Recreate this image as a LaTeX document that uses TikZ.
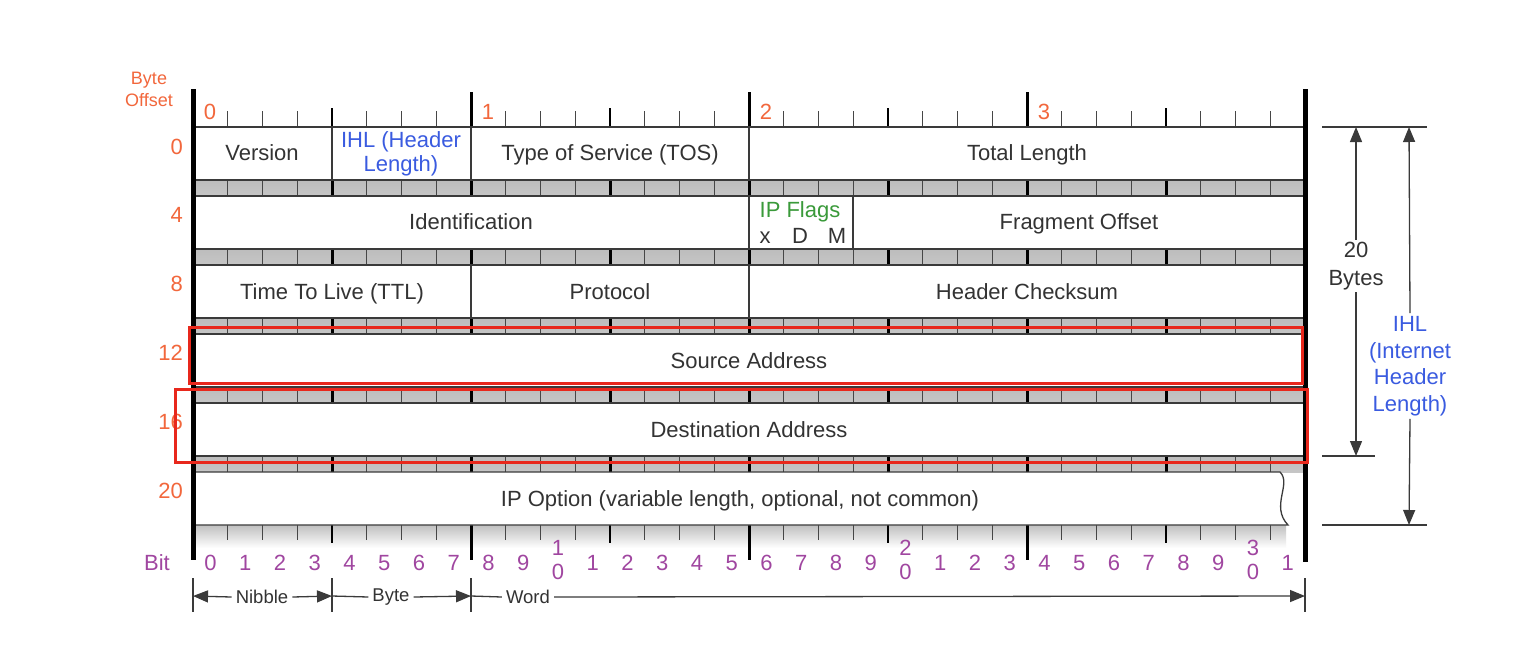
\documentclass[tikz,border=0pt]{standalone}
\usepackage{fontspec}
\setmainfont{Liberation Sans}
\usetikzlibrary{arrows.meta}
\definecolor{offc}{HTML}{F2673C}
\definecolor{ihlc}{HTML}{3A5BE0}
\definecolor{flagc}{HTML}{3A9A3A}
\definecolor{bitc}{HTML}{A046A0}
\definecolor{redc}{HTML}{E8281C}
\definecolor{txt}{HTML}{333333}
\definecolor{edge}{HTML}{3A3A3A}
\tikzset{
  field/.style={text=txt, inner sep=1pt, text height=15.5pt, text depth=0pt},
  offlab/.style={text=offc, anchor=east, inner sep=0pt},
  bitlab/.style={text=bitc, inner sep=0pt},
  rowbox/.style={fill=white, draw=edge, line width=1.3pt},
  sep/.style={draw=edge, line width=1.3pt},
  thin tick/.style={draw=gray!55!black, line width=1pt},
  thick tick/.style={draw=black, line width=3pt},
  mainline/.style={draw=black, line width=5pt},
  dim/.style={draw=edge, line width=1.3pt},
  dimarrow/.style={dim, -{Triangle[length=15pt,width=12pt]}},
  hilite/.style={draw=redc, line width=3pt},
}
\begin{document}
\begin{tikzpicture}[x=1pt,y=-1pt, font=\fontsize{22}{24}\selectfont]
\useasboundingbox (0,0) rectangle (1520,662);
\fill[white] (0,0) rectangle (1520,662);

% ---- gray bands between rows
\foreach \k in {0,...,4}{
  \pgfmathsetmacro\bt{180+69*\k}
  \pgfmathsetmacro\bb{196+69*\k}
  \shade[top color=gray!52, middle color=gray!22, bottom color=gray!45] (193,\bt) rectangle (1305,\bb);
  \foreach \i in {1,...,31}{
    \pgfmathsetmacro\xx{193+34.75*\i}
    \pgfmathtruncatemacro\m{mod(\i,4)}
    \ifnum\m=0
      \draw[thick tick] (\xx,\bt) -- (\xx,\bb);
    \else
      \draw[thin tick] (\xx,\bt) -- (\xx,\bb);
    \fi
  }
}

% ---- bottom ruler shading
\shade[top color=gray!50, bottom color=white] (193,525) rectangle (1286,548);

% ---- top and bottom ruler ticks
\foreach \i in {1,...,31}{
  \pgfmathsetmacro\xx{193+34.75*\i}
  \pgfmathtruncatemacro\m{mod(\i,4)}
  \pgfmathtruncatemacro\n{mod(\i,8)}
  \ifnum\n=0
    \draw[thick tick] (\xx,92) -- (\xx,127);
    \draw[thick tick] (\xx,525) -- (\xx,560);
  \else\ifnum\m=0
    \draw[draw=black, line width=2.5pt] (\xx,108) -- (\xx,127);
    \draw[draw=black, line width=2.5pt] (\xx,525) -- (\xx,543);
  \else
    \draw[thin tick] (\xx,111) -- (\xx,127);
    \draw[thin tick] (\xx,525) -- (\xx,540);
  \fi\fi
}

% ---- rows
\foreach \r in {0,...,4}{
  \pgfmathsetmacro\rt{127+69*\r}
  \pgfmathsetmacro\rb{180+69*\r}
  \draw[rowbox] (193,\rt) rectangle (1305,\rb);
}
\draw[rowbox] (193,472) -- (1280,472) .. controls (1292,484) and (1270,506) .. (1288,525) -- (193,525) -- cycle;

% field separators
\draw[sep] (332,127) -- (332,180);
\draw[sep] (471,127) -- (471,180);
\draw[sep] (749,127) -- (749,180);
\draw[sep] (749,196) -- (749,249);
\draw[sep] (853,196) -- (853,249);
\draw[sep] (471,265) -- (471,318);
\draw[sep] (749,265) -- (749,318);

% main vertical lines
\draw[mainline] (193,89) -- (193,560);
\draw[mainline] (1305,89) -- (1305,562);

% ---- byte offset labels
\node[text=offc, font=\fontsize{18}{22}\selectfont, align=center, inner sep=0pt] (bo) at (149,89) {Byte\\Offset};
\node[text=offc, inner sep=0pt] (b0) at (210,112) {0};
\node[text=offc, inner sep=0pt] (b1) at (488,112) {1};
\node[text=offc, inner sep=0pt] (b2) at (766,112) {2};
\node[text=offc, inner sep=0pt] (b3) at (1044,112) {3};
\node[offlab] (o0) at (183,147) {0};
\node[offlab] (o4) at (183,215) {4};
\node[offlab] (o8) at (183,284) {8};
\node[offlab] (o12) at (183,353) {12};
\node[offlab] (o16) at (183,422) {16};
\node[offlab] (o20) at (183,491) {20};

% ---- field texts
\node[field] (ver) at (262,153) {Version};
\node[text=ihlc, inner sep=1pt, align=center] (ihl) at (401,154) {IHL (Header\\Length)};
\node[field] (tos) at (610,153) {Type of Service (TOS)};
\node[field] (tlen) at (1027,153) {Total Length};
\node[field] (ident) at (471,222) {Identification};
\node[field, text=flagc] (flags) at (800,210) {IP Flags};
\node[field] (fx) at (765,236) {x};
\node[field] (fd) at (800,236) {D};
\node[field] (fm) at (837,236) {M};
\node[field] (frag) at (1079,222) {Fragment Offset};
\node[field] (ttl) at (332,292) {Time To Live (TTL)};
\node[field] (proto) at (610,292) {Protocol};
\node[field] (hcs) at (1027,292) {Header Checksum};
\node[field] (src) at (749,361) {Source Address};
\node[field] (dst) at (749,430) {Destination Address};
\node[field] (opt) at (740,499) {IP Option (variable length, optional, not common)};

% ---- highlight boxes
\draw[hilite] (189,327) rectangle (1302,383);
\draw[hilite] (175,389) rectangle (1307,462);

% ---- bit labels
\node[bitlab] (bitw) at (157,563) {Bit};
\foreach \i/\lab in {0/0,1/1,2/2,3/3,4/4,5/5,6/6,7/7,8/8,9/9,11/1,12/2,13/3,14/4,15/5,16/6,17/7,18/8,19/9,21/1,22/2,23/3,24/4,25/5,26/6,27/7,28/8,29/9,31/1}{
  \pgfmathsetmacro\xx{193+34.75*(\i+0.5)}
  \node[bitlab] (bit\i) at (\xx,563) {\lab};
}
\foreach \i/\lab in {10/1,20/2,30/3}{
  \pgfmathsetmacro\xx{193+34.75*(\i+0.5)}
  \node[bitlab] (bit\i a) at (\xx,548) {\lab};
  \node[bitlab] (bit\i b) at (\xx,572) {0};
}

% ---- right side dimensions
\coordinate (h1l) at (1322,127); \coordinate (h1r) at (1427,127);
\coordinate (h2l) at (1322,456); \coordinate (h2r) at (1375,456);
\coordinate (h3l) at (1322,525); \coordinate (h3r) at (1427,525);
\draw[dim] (h1l) -- (h1r);
\draw[dim] (h2l) -- (h2r);
\draw[dim] (h3l) -- (h3r);
\node[text=txt, align=center, font=\fontsize{22}{28}\selectfont, inner sep=2pt] (twenty) at (1356,266) {20\\Bytes};
\coordinate (a1t) at (1356,127); \coordinate (a1b) at (1356,456);
\draw[dimarrow] (twenty.north) -- (a1t);
\draw[dimarrow] (twenty.south) -- (a1b);
\node[text=ihlc, align=center, font=\fontsize{22}{26.5}\selectfont, inner sep=3pt] (ihlr) at (1410,366) {IHL\\(Internet\\Header\\Length)};
\coordinate (a2t) at (1409,127); \coordinate (a2b) at (1409,525);
\draw[dimarrow] (ihlr.north) -- (a2t);
\draw[dimarrow] (ihlr.south) -- (a2b);

% ---- bottom dimensions
\coordinate (d0) at (193,596); \coordinate (d1) at (332,596);
\coordinate (d2) at (471,596); \coordinate (d3) at (1305,596);
\foreach \c/\xx in {d0/193,d1/332,d2/471,d3/1305}{
  \draw[dim] (\xx,578) -- (\xx,612);
}
\node[text=txt, font=\fontsize{18.5}{22}\selectfont, inner sep=4pt] (nib) at (262,597) {Nibble};
\node[text=txt, font=\fontsize{18.5}{22}\selectfont, inner sep=4pt] (byt) at (391,597) {Byte};
\node[text=txt, font=\fontsize{18.5}{22}\selectfont, inner sep=4pt] (wrd) at (528,597) {Word};
\draw[dimarrow] (nib.west) -- (d0);
\draw[dimarrow] (nib.east) -- (d1);
\draw[dim] (d1) -- (byt.west);
\draw[dimarrow] (byt.east) -- (d2);
\draw[dim] (d2) -- (wrd.west);
\draw[dimarrow] (wrd.east) -- (d3);
\end{tikzpicture}
\end{document}
